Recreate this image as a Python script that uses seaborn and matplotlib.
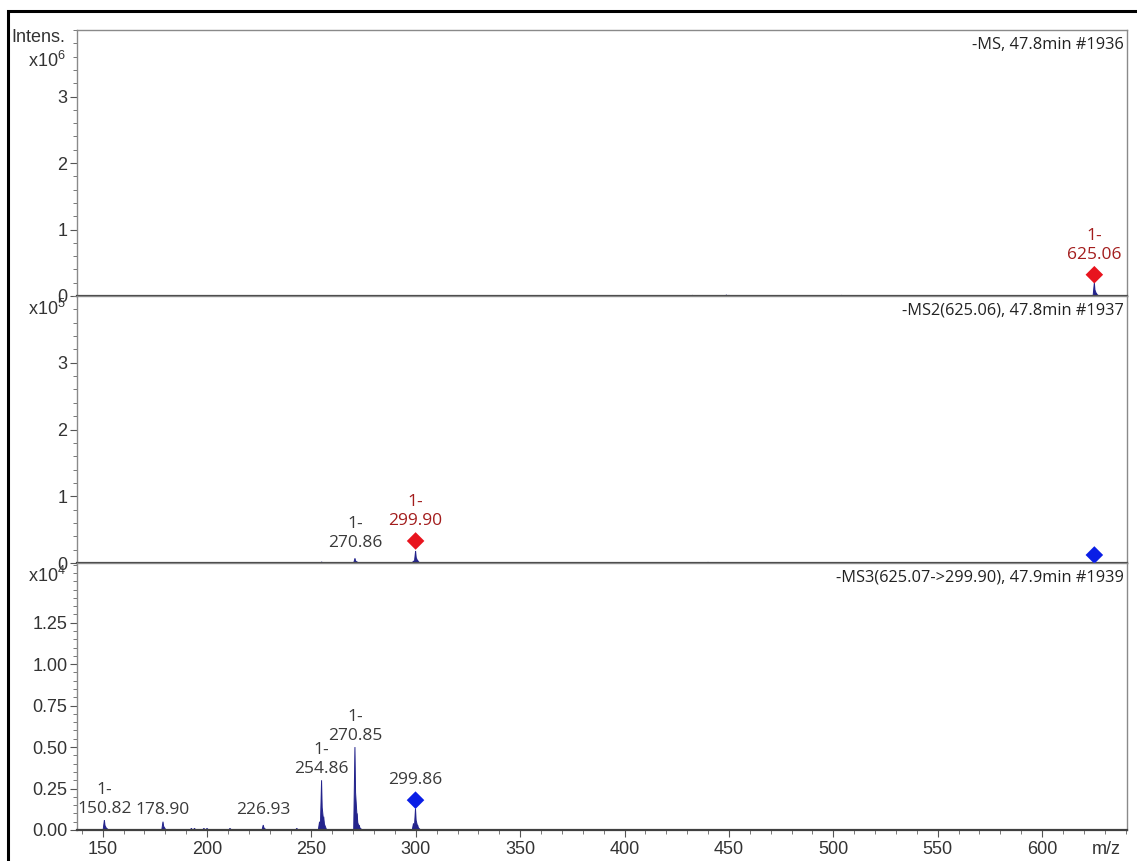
import matplotlib
matplotlib.use("Agg")
import matplotlib.pyplot as plt
from matplotlib.ticker import MultipleLocator, FormatStrFormatter
from matplotlib.patches import Rectangle
import seaborn as sns
import pandas as pd

# --- data ---
# MS1 (x1e6)
ms1_mz = [432.6, 448.8, 450.0, 485.0, 504.0, 519.0, 532.0, 541.0, 625.06, 626.1]
ms1_int = [0.010, 0.015, 0.010, 0.008, 0.010, 0.008, 0.008, 0.008, 0.20, 0.04]
# MS2 (x1e5)
ms2_mz = [254.9, 270.86, 271.9, 298.9, 299.90, 300.9, 440.0, 505.0, 625.06]
ms2_int = [0.015, 0.07, 0.015, 0.03, 0.18, 0.04, 0.010, 0.008, 0.010]
# MS3 (x1e4)
ms3_mz = [150.82, 152.0, 178.90, 192.5, 194.0, 198.5, 200.0, 211.0, 226.93, 243.0,
          253.9, 254.86, 255.9, 270.85, 271.9, 272.9, 298.9, 299.86, 300.9]
ms3_int = [0.06, 0.01, 0.05, 0.01, 0.01, 0.01, 0.01, 0.01, 0.03, 0.01,
           0.05, 0.30, 0.08, 0.50, 0.10, 0.03, 0.04, 0.13, 0.03]

# markers (m/z, height, colour key)
ms1_marks = [(625.06, 0.32, "red")]
ms2_marks = [(299.90, 0.33, "red"), (625.06, 0.12, "blue")]
ms3_marks = [(299.86, 0.18, "blue")]

# peak labels (text, m/z, colour key)
ms1_labels = [("1-\n625.06", 625.06, "red")]
ms2_labels = [("1-\n270.86", 270.86, "black"), ("1-\n299.90", 299.90, "red")]
ms3_labels = [("1-\n150.82", 150.82, "black"), ("178.90", 178.90, "black"),
              ("226.93", 226.93, "black"), ("1-\n254.86", 254.86, "black"),
              ("1-\n270.85", 270.85, "black"), ("299.86", 299.86, "black")]

titles = ["-MS, 47.8min #1936", "-MS2(625.06), 47.8min #1937",
          "-MS3(625.07->299.90), 47.9min #1939"]
exponents = ["6", "5", "4"]
yticks_12 = [0, 1, 2, 3]
yticks_3 = [0, 0.25, 0.5, 0.75, 1.0, 1.25]

sns.set_style("white")
plt.rcParams['font.family'] = ['Liberation Sans', 'DejaVu Sans']
plt.rcParams['mathtext.fontset'] = 'custom'
plt.rcParams['mathtext.rm'] = 'Liberation Sans'
plt.rcParams['mathtext.it'] = 'Liberation Sans'

marker_col = {"red": "#e8141e", "blue": "#0a1ee6"}
label_col = {"red": "#a31d1d", "black": "#3a3a3a"}
peak_col = "#24248c"
label_font = ['Open Sans', 'DejaVu Sans']

fig = plt.figure(figsize=(11.37, 8.61), dpi=100)
W, H = 1137, 861
left, right = 77 / W, 1127 / W
tops = [30, 296, 563]
bots = [296, 563, 830]
axes = []
for t, b in zip(tops, bots):
    ax = fig.add_axes([left, 1 - b / H, right - left, (b - t) / H])
    axes.append(ax)

panels = [
    (ms1_mz, ms1_int, ms1_marks, ms1_labels, 4.0, yticks_12, 0.2, "%d"),
    (ms2_mz, ms2_int, ms2_marks, ms2_labels, 4.0, yticks_12, 0.2, "%d"),
    (ms3_mz, ms3_int, ms3_marks, ms3_labels, 1.61, yticks_3, 0.05, "%.2f"),
]

for i, (ax, (mz, inten, marks, labels, ymax, yt, mnr, fmt)) in enumerate(zip(axes, panels)):
    # peaks as narrow profiles
    for m, h in zip(mz, inten):
        ax.fill([m - 0.6, m, m + 0.3, m + 1.4], [0, h, h * 0.45, 0],
                color=peak_col, lw=0.7, zorder=2)
    if marks:
        mdf = pd.DataFrame(marks, columns=["mz", "y", "c"])
        sns.scatterplot(data=mdf, x="mz", y="y", hue="c", palette=marker_col,
                        marker="D", s=80, edgecolor="none", legend=False,
                        ax=ax, zorder=4)
    peak_h = dict(zip(mz, inten))
    mark_h = {m: y for m, y, _ in marks}
    for txt, m, c in labels:
        y = max(peak_h.get(m, 0), mark_h.get(m, 0) + 0.035 * ymax)
        ax.annotate(txt, (m, y), xytext=(0, 2), textcoords="offset points",
                    ha="center", va="bottom", fontsize=12.5, color=label_col[c],
                    family=label_font, linespacing=1.25, zorder=5)

    ax.set_xlim(137.7, 640.7)
    ax.set_ylim(0, ymax)
    ax.set_yticks(yt)
    ax.yaxis.set_minor_locator(MultipleLocator(mnr))
    ax.yaxis.set_major_formatter(FormatStrFormatter(fmt))
    ax.tick_params(axis="y", which="major", length=5, width=0.8, color="#555555",
                   labelsize=13, labelcolor="#333333", pad=2, left=True)
    ax.tick_params(axis="y", which="minor", length=3, width=0.7, color="#777777", left=True)
    for s in ["top", "right", "left"]:
        ax.spines[s].set_color("#8a8a8a")
        ax.spines[s].set_linewidth(1.0)
    ax.spines["bottom"].set_color("#404040")
    ax.spines["bottom"].set_linewidth(1.6)
    ax.set_xlabel("")
    ax.set_ylabel("")

    ax.text(0.997, 0.99 - 12 / 266, titles[i], transform=ax.transAxes,
            ha="right", va="center", fontsize=11.8, color="#222222", family=label_font)
    ey = 0.885 if i == 0 else 0.95
    ax.text(-0.0105, ey, "x10$^{%s}$" % exponents[i], transform=ax.transAxes,
            ha="right", va="center", fontsize=13, color="#333333")

    if i < 2:
        ax.tick_params(axis="x", which="both", bottom=False, labelbottom=False)
    else:
        ax.xaxis.set_major_locator(MultipleLocator(50))
        ax.xaxis.set_minor_locator(MultipleLocator(10))
        ax.tick_params(axis="x", which="major", length=5, width=0.8, color="#555555",
                       labelsize=13, labelcolor="#333333", pad=3, bottom=True)
        ax.tick_params(axis="x", which="minor", length=3, width=0.7,
                       color="#777777", bottom=True)
        ax.text(631, -0.04, "m/z", transform=ax.get_xaxis_transform(),
                ha="center", va="top", fontsize=13, color="#333333")

axes[0].text(-0.011, 0.97, "Intens.", transform=axes[0].transAxes,
             ha="right", va="center", fontsize=13, color="#333333")

# outer frame
fig.patches.append(Rectangle((8 / W, -0.05), 1.2, 1 - 11 / H + 0.05,
                             transform=fig.transFigure, fill=False,
                             edgecolor="black", lw=2.2))

fig.savefig("out.png", dpi=100)
